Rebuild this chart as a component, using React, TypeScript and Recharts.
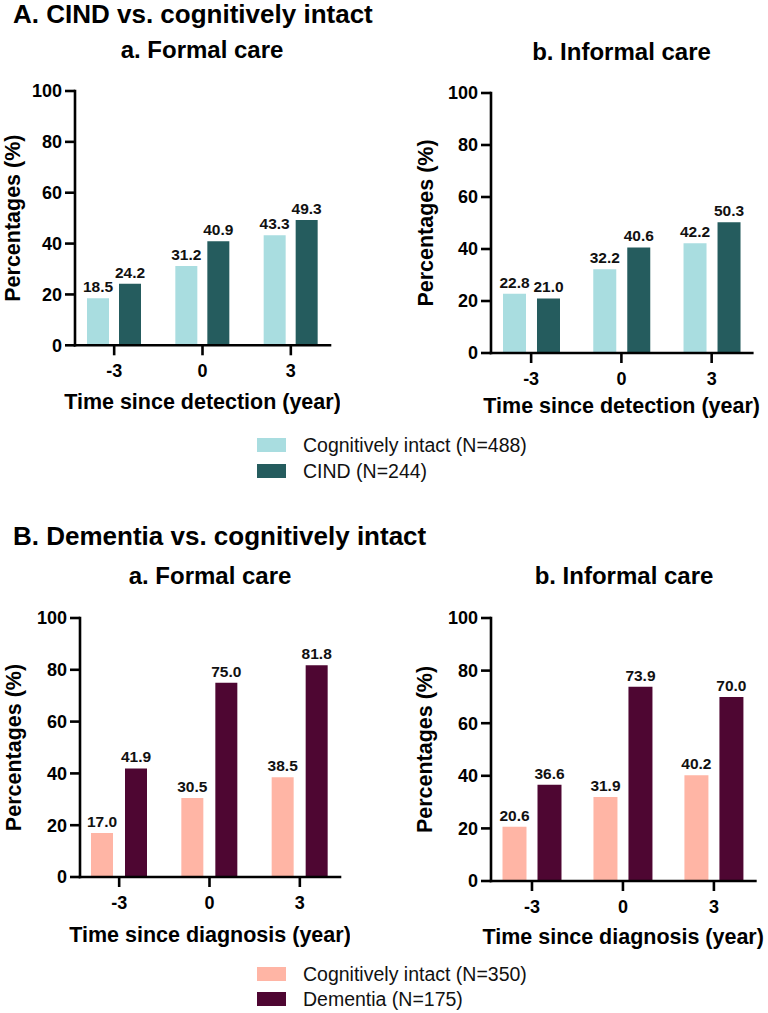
import React from 'react';
import { BarChart, Bar, XAxis, YAxis, LabelList, Label } from 'recharts';

// Follow-up time points (years relative to detection / diagnosis)
const timePoints = ['-3', '0', '3'];
const yTicks = [0, 20, 40, 60, 80, 100];

// A. CIND vs. cognitively intact (%)
const cindFormalIntact = [18.5, 31.2, 43.3];
const cindFormalCind = [24.2, 40.9, 49.3];
const cindInformalIntact = [22.8, 32.2, 42.2];
const cindInformalCind = [21.0, 40.6, 50.3];

// B. Dementia vs. cognitively intact (%)
const demFormalIntact = [17.0, 30.5, 38.5];
const demFormalDementia = [41.9, 75.0, 81.8];
const demInformalIntact = [20.6, 31.9, 40.2];
const demInformalDementia = [36.6, 73.9, 70.0];

const cindSeriesNames = ['Cognitively intact (N=488)', 'CIND (N=244)'];
const dementiaSeriesNames = ['Cognitively intact (N=350)', 'Dementia (N=175)'];
const cindColors = ['#A9DDE0', '#255C5E'];
const dementiaColors = ['#FFB5A5', '#4E0632'];

const FONT = '"Liberation Sans", Arial, Helvetica, sans-serif';
const AXIS = { stroke: '#000', strokeWidth: 2.6 };

type PanelProps = {
  plot: [number, number, number, number]; // left, top, right, bottom of plotting area
  intact: number[];
  other: number[];
  colors: string[];
  xTitle: string;
  yTitleGap: number;
  xTitleDrop: number;
  barSize: number;
  barGap: number;
  pad: [number, number];
};

function Panel(p: PanelProps) {
  const [l, t, r, b] = p.plot;
  const mL = 40, yW = 60, mT = 30, mR = 10, xH = 70, mB = 8;
  const width = r - l + yW + mL + mR;
  const height = b - t + mT + xH + mB;
  const data = timePoints.map((time, i) => ({ time, intact: p.intact[i], other: p.other[i] }));
  const fmt = (v: any) => Number(v).toFixed(1);
  const valueStyle = { fontSize: 15.5, fontWeight: 700, fill: '#111' };

  const yTitle = (props: any) => {
    const vb = props.viewBox;
    const cx = vb.x + vb.width - p.yTitleGap;
    const cy = vb.y + vb.height / 2;
    return (
      <text
        x={cx}
        y={cy}
        transform={`rotate(-90 ${cx} ${cy})`}
        textAnchor="middle"
        dominantBaseline="central"
        style={{ fontSize: 21.5, fontWeight: 700 }}
        fill="#000"
      >
        Percentages (%)
      </text>
    );
  };

  const xTitle = (props: any) => {
    const vb = props.viewBox;
    const cx = vb.x + vb.width / 2;
    const cy = vb.y + p.xTitleDrop;
    return (
      <text x={cx} y={cy} textAnchor="middle" dominantBaseline="central" style={{ fontSize: 21.5, fontWeight: 700 }} fill="#000">
        {p.xTitle}
      </text>
    );
  };

  return (
    <div style={{ position: 'absolute', left: l - yW - mL, top: t - mT }}>
      <BarChart
        width={width}
        height={height}
        data={data}
        margin={{ top: mT, right: mR, bottom: mB, left: mL }}
        barGap={p.barGap}
      >
        <XAxis
          dataKey="time"
          type="category"
          interval={0}
          height={xH}
          padding={{ left: p.pad[0], right: p.pad[1] }}
          axisLine={{ ...AXIS, strokeLinecap: 'square' }}
          tickLine={AXIS}
          tickSize={10}
          tickMargin={9}
          tick={{ fontSize: 18, fontWeight: 700, fill: '#000' }}
        >
          <Label content={xTitle} />
        </XAxis>
        <YAxis
          type="number"
          domain={[0, 100]}
          ticks={yTicks}
          interval={0}
          width={yW}
          axisLine={{ ...AXIS, strokeLinecap: 'square' }}
          tickLine={AXIS}
          tickSize={10}
          tickMargin={3}
          tick={{ fontSize: 18, fontWeight: 700, fill: '#000' }}
        >
          <Label content={yTitle} />
        </YAxis>
        <Bar dataKey="intact" fill={p.colors[0]} barSize={p.barSize} isAnimationActive={false}>
          <LabelList dataKey="intact" position="top" offset={6} formatter={fmt} style={valueStyle} />
        </Bar>
        <Bar dataKey="other" fill={p.colors[1]} barSize={p.barSize} isAnimationActive={false}>
          <LabelList dataKey="other" position="top" offset={6} formatter={fmt} style={valueStyle} />
        </Bar>
      </BarChart>
    </div>
  );
}

function Heading({ text, left, cy, size }: { text: string; left: number; cy: number; size: number }) {
  const lh = size;
  return (
    <div style={{ position: 'absolute', left, top: cy - lh / 2, height: lh, lineHeight: `${lh}px`, fontSize: size, fontWeight: 700, whiteSpace: 'nowrap' }}>
      {text}
    </div>
  );
}

function SubTitle({ text, cx, cy }: { text: string; cx: number; cy: number }) {
  const lh = 34;
  return (
    <div style={{ position: 'absolute', left: cx - 200, width: 400, top: cy - lh / 2, height: lh, lineHeight: `${lh}px`, fontSize: 24, fontWeight: 700, textAlign: 'center', whiteSpace: 'nowrap' }}>
      {text}
    </div>
  );
}

function SeriesLegend({ names, colors, rows }: { names: string[]; colors: string[]; rows: number[] }) {
  return (
    <>
      {names.map((name, i) => (
        <React.Fragment key={name}>
          <div style={{ position: 'absolute', left: 257, top: rows[i] - 7, width: 29, height: 14, background: colors[i] }} />
          <div style={{ position: 'absolute', left: 303, top: rows[i] - 14, height: 28, lineHeight: '28px', fontSize: 19.5, color: '#111', whiteSpace: 'nowrap' }}>
            {name}
          </div>
        </React.Fragment>
      ))}
    </>
  );
}

export default function App() {
  return (
    <div style={{ position: 'absolute', left: 0, top: 0, width: 768, height: 1013, background: '#fff', fontFamily: FONT, color: '#000', overflow: 'hidden' }}>
      <Heading text="A. CIND vs. cognitively intact" left={13} cy={13.5} size={26} />
      <SubTitle text="a. Formal care" cx={202} cy={50} />
      <SubTitle text="b. Informal care" cx={621.5} cy={51.5} />
      <Panel
        plot={[75, 90.7, 330, 345]}
        intact={cindFormalIntact}
        other={cindFormalCind}
        colors={cindColors}
        xTitle="Time since detection (year)"
        yTitleGap={62}
        xTitleDrop={57}
        barSize={22}
        barGap={10}
        pad={[-5, -5]}
      />
      <Panel
        plot={[490.7, 92.7, 752, 352.7]}
        intact={cindInformalIntact}
        other={cindInformalCind}
        colors={cindColors}
        xTitle="Time since detection (year)"
        yTitleGap={65}
        xTitleDrop={53}
        barSize={23}
        barGap={11}
        pad={[-5, -4.5]}
      />
      <SeriesLegend names={cindSeriesNames} colors={cindColors} rows={[445, 471]} />

      <Heading text="B. Dementia vs. cognitively intact" left={13} cy={536} size={26} />
      <SubTitle text="a. Formal care" cx={210} cy={575.5} />
      <SubTitle text="b. Informal care" cx={624} cy={576} />
      <Panel
        plot={[80, 617.7, 340, 876.7]}
        intact={demFormalIntact}
        other={demFormalDementia}
        colors={dementiaColors}
        xTitle="Time since diagnosis (year)"
        yTitleGap={66.5}
        xTitleDrop={58}
        barSize={22}
        barGap={12}
        pad={[-6, -5]}
      />
      <Panel
        plot={[491.3, 617.7, 755.7, 880.7]}
        intact={demInformalIntact}
        other={demInformalDementia}
        colors={dementiaColors}
        xTitle="Time since diagnosis (year)"
        yTitleGap={66}
        xTitleDrop={56}
        barSize={24}
        barGap={11}
        pad={[-4.5, -4]}
      />
      <SeriesLegend names={dementiaSeriesNames} colors={dementiaColors} rows={[974, 999]} />
    </div>
  );
}
